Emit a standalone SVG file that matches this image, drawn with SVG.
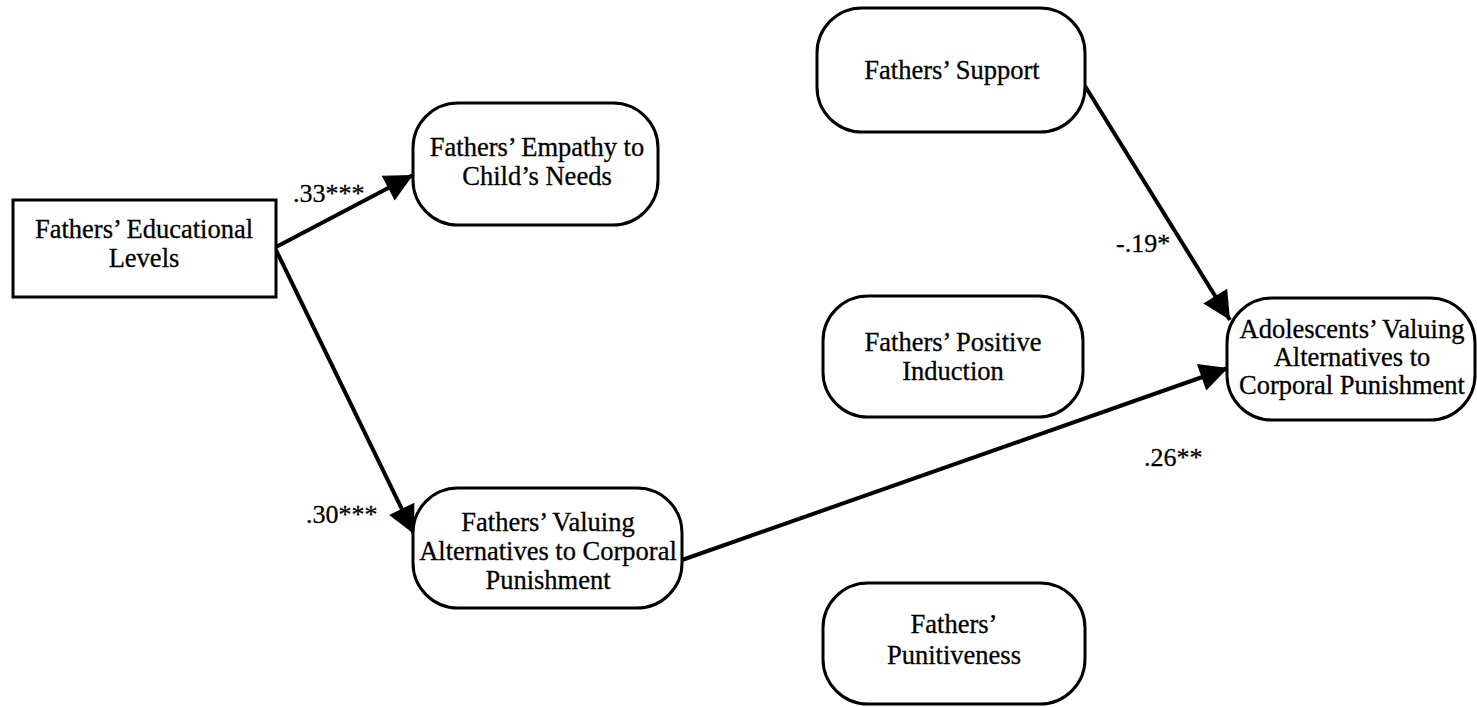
<svg xmlns="http://www.w3.org/2000/svg" width="1477" height="707" viewBox="0 0 1477 707">
  <style>
    .box { fill: #ffffff; stroke: #000000; stroke-width: 3; }
    .lbl { font-family: "Liberation Serif", "Times New Roman", serif; font-size: 26.5px; fill: #000000; stroke: #000000; stroke-width: 0.3; text-anchor: middle; }
    .coef { font-family: "Liberation Serif", "Times New Roman", serif; font-size: 26px; fill: #000000; stroke: #000000; stroke-width: 0.3; }
    .edge { stroke: #000000; stroke-width: 4; fill: none; marker-end: url(#head); }
  </style>
  <defs>
    <!-- filled triangular arrowhead for the path coefficients -->
    <marker id="head" viewBox="0 0 10 10" refX="10" refY="5" markerWidth="8" markerHeight="7" markerUnits="strokeWidth" orient="auto">
      <path d="M0,0 L10,5 L0,10 Z" fill="#000000"/>
    </marker>
  </defs>
  <rect width="1477" height="707" fill="#ffffff"/>

  <g id="connectors">
    <line class="edge" x1="276" y1="247" x2="413" y2="175"/>
    <line class="edge" x1="276" y1="250" x2="414" y2="534"/>
    <line class="edge" x1="682" y1="560" x2="1228" y2="368"/>
    <line class="edge" x1="1085" y1="86" x2="1230" y2="320"/>
    <text class="coef" x="293" y="202">.33***</text>
    <text class="coef" x="306" y="523">.30***</text>
    <text class="coef" x="1144" y="466">.26**</text>
    <text class="coef" x="1116" y="252">-.19*</text>
  </g>

  <g id="fathers-education">
    <rect class="box" x="13" y="200" width="263" height="97"/>
    <text class="lbl" x="144" y="238">Fathers’ Educational</text>
    <text class="lbl" x="144" y="267">Levels</text>
  </g>

  <g id="fathers-empathy">
    <rect class="box" x="413" y="103" width="245" height="122" rx="45" ry="45"/>
    <text class="lbl" x="537" y="156">Fathers’ Empathy to</text>
    <text class="lbl" x="537" y="185">Child’s Needs</text>
  </g>

  <g id="fathers-valuing">
    <rect class="box" x="413" y="488" width="269" height="120" rx="45" ry="45"/>
    <text class="lbl" x="548" y="531">Fathers’ Valuing</text>
    <text class="lbl" x="548" y="560">Alternatives to Corporal</text>
    <text class="lbl" x="548" y="589">Punishment</text>
  </g>

  <g id="fathers-support">
    <rect class="box" x="817" y="8" width="268" height="124" rx="45" ry="45"/>
    <text class="lbl" x="952" y="79">Fathers’ Support</text>
  </g>

  <g id="fathers-induction">
    <rect class="box" x="823" y="296" width="260" height="121" rx="45" ry="45"/>
    <text class="lbl" x="953" y="351">Fathers’ Positive</text>
    <text class="lbl" x="953" y="380">Induction</text>
  </g>

  <g id="fathers-punitiveness">
    <rect class="box" x="823" y="583" width="262" height="121" rx="45" ry="45"/>
    <text class="lbl" x="954" y="633">Fathers’</text>
    <text class="lbl" x="954" y="664">Punitiveness</text>
  </g>

  <g id="adolescents-valuing">
    <rect class="box" x="1227" y="298" width="248" height="122" rx="45" ry="45"/>
    <text class="lbl" x="1352" y="338">Adolescents’ Valuing</text>
    <text class="lbl" x="1352" y="366">Alternatives to</text>
    <text class="lbl" x="1352" y="394">Corporal Punishment</text>
  </g>
</svg>
